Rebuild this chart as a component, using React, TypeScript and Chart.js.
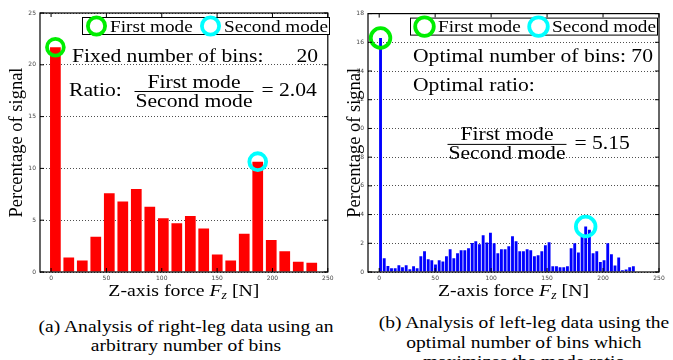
import React, { useEffect, useRef } from 'react';
import { Chart, registerables } from 'chart.js';

Chart.register(...registerables);

// ---------- data ----------
const xTickValues = [0, 50, 100, 150, 200, 250];
const leftYTicks = [0, 5, 10, 15, 20, 25];
const rightYTicks = [0, 2, 4, 6, 8, 10, 12, 14, 16, 18];

// (a) right-leg data, 20 bins (bin centres in N, percentage of signal)
const leftCenters = [3.9, 16.0, 28.2, 40.4, 52.6, 64.8, 77.0, 89.2, 101.4, 113.6, 125.8, 137.9, 150.1, 162.3, 174.5, 186.7, 198.9, 211.1, 223.3, 235.5];
const leftValues = [21.7, 1.4, 1.1, 3.4, 7.6, 6.8, 8.0, 6.3, 5.2, 4.7, 5.4, 4.2, 1.7, 1.1, 3.7, 10.65, 3.1, 2.0, 1.0, 0.9];
const leftFirstMode = 0;
const leftSecondMode = 15;

// (b) left-leg data, 70 bins
const rightCenters = [1.2, 4.5, 7.8, 11.0, 14.3, 17.6, 20.8, 24.1, 27.4, 30.7, 33.9, 37.2, 40.5, 43.8, 47.0, 50.3, 53.6, 56.9, 60.1, 63.4, 66.7, 70.0, 73.2, 76.5, 79.8, 83.1, 86.3, 89.6, 92.9, 96.2, 99.4, 102.7, 106.0, 109.2, 112.5, 115.8, 119.1, 122.3, 125.6, 128.9, 132.2, 135.4, 138.7, 142.0, 145.3, 148.5, 151.8, 155.1, 158.4, 161.6, 164.9, 168.2, 171.5, 174.7, 178.0, 181.3, 184.5, 187.8, 191.1, 194.4, 197.6, 200.9, 204.2, 207.5, 210.7, 214.0, 217.3, 220.6, 223.8, 227.1];
const rightValues = [16.3, 0.95, 0.42, 0.26, 0.26, 0.47, 0.33, 0.47, 0.19, 0.40, 0.26, 1.09, 1.44, 0.88, 0.81, 0.53, 0.81, 0.74, 1.09, 1.58, 0.95, 1.30, 1.51, 1.51, 1.65, 2.02, 2.14, 1.93, 2.56, 2.05, 2.74, 2.00, 1.30, 1.58, 1.58, 1.79, 2.49, 2.14, 1.44, 1.44, 1.58, 1.51, 1.09, 1.16, 1.44, 1.86, 2.07, 0.40, 0.40, 0.33, 0.33, 0.40, 1.66, 2.00, 1.36, 2.60, 3.17, 2.95, 1.31, 1.44, 0.69, 0.81, 2.00, 1.24, 0.46, 1.01, 0.12, 0.18, 0.33, 0.40];
const rightFirstMode = 0;
const rightSecondMode = 56;

const legendLabels = ['First mode', 'Second mode'];
const yTitle = 'Percentage of signal';
const leftBinsText = 'Fixed number of bins:';
const leftBinsCount = '20';
const leftRatioLabel = 'Ratio:';
const leftRatioValue = '2.04';
const rightBinsText = 'Optimal number of bins: 70';
const rightRatioLabel = 'Optimal ratio:';
const rightRatioValue = '5.15';
const captionA = ['(a) Analysis of right-leg data using an', 'arbitrary number of bins'];
const captionB = ['(b) Analysis of left-leg data using the', 'optimal number of bins which', 'maximizes the mode ratio'];

// ---------- styles ----------
const SERIF = '"Liberation Serif", "Times New Roman", serif';
const SANS = '"DejaVu Sans", "Liberation Sans", sans-serif';
const SX = 1.2;
const GREEN = '#00ee00';
const CYAN = '#00ffff';

function drawText(ctx: CanvasRenderingContext2D, s: string, x: number, y: number, size: number, align: 'left' | 'right' | 'center' = 'left', style = '') {
  ctx.save();
  ctx.font = `${style}${size}px ${SERIF}`;
  const w = ctx.measureText(s).width * SX;
  const x0 = align === 'left' ? x : align === 'right' ? x - w : x - w / 2;
  ctx.translate(x0, y);
  ctx.scale(SX, 1);
  ctx.textAlign = 'left';
  ctx.textBaseline = 'alphabetic';
  ctx.fillStyle = '#000';
  ctx.fillText(s, 0, 0);
  ctx.restore();
  return w;
}

function measure(ctx: CanvasRenderingContext2D, s: string, size: number, style = '') {
  ctx.save();
  ctx.font = `${style}${size}px ${SERIF}`;
  const w = ctx.measureText(s).width * SX;
  ctx.restore();
  return w;
}

function ring(ctx: CanvasRenderingContext2D, x: number, y: number, r: number, lw: number, color: string) {
  ctx.save();
  ctx.beginPath();
  ctx.arc(x, y, r, 0, Math.PI * 2);
  ctx.lineWidth = lw;
  ctx.strokeStyle = color;
  ctx.stroke();
  ctx.restore();
}

function drawFraction(ctx: CanvasRenderingContext2D, cx: number, barY: number, size: number) {
  const wn = measure(ctx, legendLabels[0], size);
  const wd = measure(ctx, legendLabels[1], size);
  const w = Math.max(wn, wd) + 2;
  drawText(ctx, legendLabels[0], cx, barY - 3.5, size, 'center');
  drawText(ctx, legendLabels[1], cx, barY + 15.5, size, 'center');
  ctx.save();
  ctx.beginPath();
  ctx.moveTo(cx - w / 2, barY + 0.5);
  ctx.lineTo(cx + w / 2, barY + 0.5);
  ctx.lineWidth = 1;
  ctx.strokeStyle = '#000';
  ctx.stroke();
  ctx.restore();
  return cx + w / 2;
}

function drawLegend(ctx: CanvasRenderingContext2D, a: { left: number; top: number }, r: number) {
  const x0 = a.left + 42;
  const y0 = a.top + 4;
  const w = 247;
  const h = 17;
  ctx.save();
  ctx.fillStyle = '#fff';
  ctx.fillRect(x0, y0, w, h);
  ctx.strokeStyle = '#000';
  ctx.lineWidth = 1;
  ctx.strokeRect(x0 + 0.5, y0 + 0.5, w, h);
  ctx.restore();
  ring(ctx, x0 + 14.5, y0 + 9, r, 3.8, GREEN);
  drawText(ctx, legendLabels[0], x0 + 28, y0 + 14.5, 16);
  ring(ctx, x0 + 128.5, y0 + 9, r, 3.8, CYAN);
  drawText(ctx, legendLabels[1], x0 + 142, y0 + 14.5, 16);
}

function drawFrame(chart: any) {
  const ctx: CanvasRenderingContext2D = chart.ctx;
  const a = chart.chartArea;
  const xs = chart.scales.x;
  const ys = chart.scales.y;
  ctx.save();
  ctx.strokeStyle = '#000';
  ctx.lineWidth = 1.2;
  ctx.strokeRect(a.left, a.top, a.right - a.left, a.bottom - a.top);
  ctx.lineWidth = 1;
  ctx.beginPath();
  const tl = 4;
  xs.ticks.forEach((t: any) => {
    const px = xs.getPixelForValue(t.value);
    ctx.moveTo(px, a.bottom);
    ctx.lineTo(px, a.bottom - tl);
    ctx.moveTo(px, a.top);
    ctx.lineTo(px, a.top + tl);
  });
  ys.ticks.forEach((t: any) => {
    const py = ys.getPixelForValue(t.value);
    ctx.moveTo(a.left, py);
    ctx.lineTo(a.left + tl, py);
    ctx.moveTo(a.right, py);
    ctx.lineTo(a.right - tl, py);
  });
  ctx.stroke();
  ctx.restore();
}

function drawXTitle(ctx: CanvasRenderingContext2D, a: any) {
  const size = 16.5;
  const parts: [string, string, number, number][] = [
    ['Z-axis force ', '', size, 0],
    ['F', 'italic ', size, 0],
    ['z', 'italic ', size * 0.7, 3],
    [' [N]', '', size, 0],
  ];
  const total = parts.reduce((s, p) => s + measure(ctx, p[0], p[2], p[1]), 0);
  let x = (a.left + a.right) / 2 - total / 2;
  const y = a.bottom + 24;
  parts.forEach((p) => {
    x += drawText(ctx, p[0], x, y + p[3], p[2], 'left', p[1]);
  });
}

type PanelCfg = {
  centers: number[];
  values: number[];
  first: number;
  second: number;
  color: string;
  yMax: number;
  yTicks: number[];
  yWidth: number;
  padRight: number;
  titlePad: number;
  modeRadius: number;
  annotate: (ctx: CanvasRenderingContext2D, a: any) => void;
};

const leftCfg: PanelCfg = {
  centers: leftCenters,
  values: leftValues,
  first: leftFirstMode,
  second: leftSecondMode,
  color: '#ff0000',
  yMax: 25,
  yTicks: leftYTicks,
  yWidth: 40,
  padRight: 8,
  titlePad: 6,
  modeRadius: 8.4,
  annotate: (ctx, a) => {
    drawLegend(ctx, a, 8.6);
    drawText(ctx, leftBinsText, a.left + 32, a.top + 48.5, 18);
    drawText(ctx, leftBinsCount, a.left + 278, a.top + 48.5, 18, 'right');
    drawText(ctx, leftRatioLabel, a.left + 29, a.top + 83, 18);
    const end = drawFraction(ctx, a.left + 154, a.top + 78, 18);
    drawText(ctx, '= ' + leftRatioValue, end + 8, a.top + 83, 18);
  },
};

const rightCfg: PanelCfg = {
  centers: rightCenters,
  values: rightValues,
  first: rightFirstMode,
  second: rightSecondMode,
  color: '#0000ff',
  yMax: 18,
  yTicks: rightYTicks,
  yWidth: 28,
  padRight: 14,
  titlePad: 4.5,
  modeRadius: 9.8,
  annotate: (ctx, a) => {
    drawLegend(ctx, a, 9.3);
    drawText(ctx, rightBinsText, a.left + 45, a.top + 48.7, 18);
    drawText(ctx, rightRatioLabel, a.left + 45, a.top + 77, 18);
    const end = drawFraction(ctx, a.left + 139, a.top + 130.3, 18);
    drawText(ctx, '= ' + rightRatioValue, end + 8, a.top + 135.5, 18);
  },
};

const CANVAS_H = 305;
const AREA_BOTTOM = 272;

function Panel({ cfg, left, width }: { cfg: PanelCfg; left: number; width: number }) {
  const ref = useRef<HTMLCanvasElement>(null);
  useEffect(() => {
    const decor = {
      id: 'decor',
      afterDraw(chart: any) {
        const ctx = chart.ctx as CanvasRenderingContext2D;
        const a = chart.chartArea;
        drawFrame(chart);
        cfg.annotate(ctx, a);
        drawXTitle(ctx, a);
      },
    };
    const chart = new Chart(ref.current as HTMLCanvasElement, {
      type: 'bar',
      data: {
        datasets: [
          {
            type: 'scatter',
            data: [{ x: cfg.centers[cfg.first], y: cfg.values[cfg.first] }],
            pointRadius: cfg.modeRadius,
            pointHoverRadius: cfg.modeRadius,
            pointBorderWidth: 3.8,
            pointBackgroundColor: 'rgba(0,0,0,0)',
            pointBorderColor: GREEN,
            order: 0,
            clip: false,
          } as any,
          {
            type: 'scatter',
            data: [{ x: cfg.centers[cfg.second], y: cfg.values[cfg.second] }],
            pointRadius: cfg.modeRadius,
            pointHoverRadius: cfg.modeRadius,
            pointBorderWidth: 3.8,
            pointBackgroundColor: 'rgba(0,0,0,0)',
            pointBorderColor: CYAN,
            order: 0,
            clip: false,
          } as any,
          {
            type: 'bar',
            data: cfg.centers.map((c, i) => ({ x: c, y: cfg.values[i] })),
            backgroundColor: cfg.color,
            borderWidth: 0,
            barPercentage: 0.8,
            categoryPercentage: 1,
            order: 1,
          } as any,
        ],
      },
      options: {
        animation: false,
        responsive: false,
        maintainAspectRatio: false,
        events: [],
        layout: { padding: { left: 0, right: cfg.padRight, top: 13, bottom: 0 } },
        plugins: { legend: { display: false }, tooltip: { enabled: false }, title: { display: false } },
        scales: {
          x: {
            type: 'linear',
            min: -10,
            max: 250,
            offset: false,
            grid: { display: false, drawTicks: false, offset: false },
            border: { display: false },
            afterBuildTicks: (s: any) => {
              s.ticks = xTickValues.map((v) => ({ value: v }));
            },
            afterFit: (s: any) => {
              s.height = CANVAS_H - AREA_BOTTOM;
            },
            ticks: {
              font: { family: SANS, size: 6 },
              color: '#444',
              padding: 3,
              maxRotation: 0,
              autoSkip: false,
            },
          },
          y: {
            type: 'linear',
            min: 0,
            max: cfg.yMax,
            afterBuildTicks: (s: any) => {
              s.ticks = cfg.yTicks.map((v) => ({ value: v }));
            },
            afterFit: (s: any) => {
              s.width = cfg.yWidth;
            },
            grid: { color: '#222', lineWidth: 0.8, drawTicks: false },
            border: { display: false, dash: [1, 2] },
            ticks: { font: { family: SANS, size: 6 }, color: '#444', padding: 4 },
            title: {
              display: true,
              text: yTitle,
              color: '#000',
              font: { family: SERIF, size: 18.5 },
              padding: { top: cfg.titlePad, bottom: 0 },
            },
          },
        },
      } as any,
      plugins: [decor],
    });
    return () => chart.destroy();
  }, []);
  return (
    <canvas
      ref={ref}
      width={width}
      height={CANVAS_H}
      style={{ position: 'absolute', left, top: 0, width, height: CANVAS_H, display: 'block' }}
    />
  );
}

const capStyle: React.CSSProperties = {
  position: 'absolute',
  width: 340,
  fontFamily: SERIF,
  fontSize: 16,
  lineHeight: '19px',
  whiteSpace: 'nowrap',
  textAlign: 'center',
  transform: 'scaleX(1.22)',
  transformOrigin: 'center top',
  color: '#000',
};

export default function App() {
  return (
    <div
      style={{
        position: 'fixed',
        left: 0,
        top: 0,
        width: 673,
        height: 360,
        overflow: 'hidden',
        background: '#fff',
      }}
    >
      <Panel cfg={leftCfg} left={0} width={340} />
      <Panel cfg={rightCfg} left={340} width={333} />
      <div style={{ ...capStyle, left: 186 - 170, top: 317 }}>
        {captionA.map((l) => (
          <div key={l}>{l}</div>
        ))}
      </div>
      <div style={{ ...capStyle, left: 524 - 170, top: 313, lineHeight: '19.5px' }}>
        {captionB.map((l) => (
          <div key={l}>{l}</div>
        ))}
      </div>
    </div>
  );
}
